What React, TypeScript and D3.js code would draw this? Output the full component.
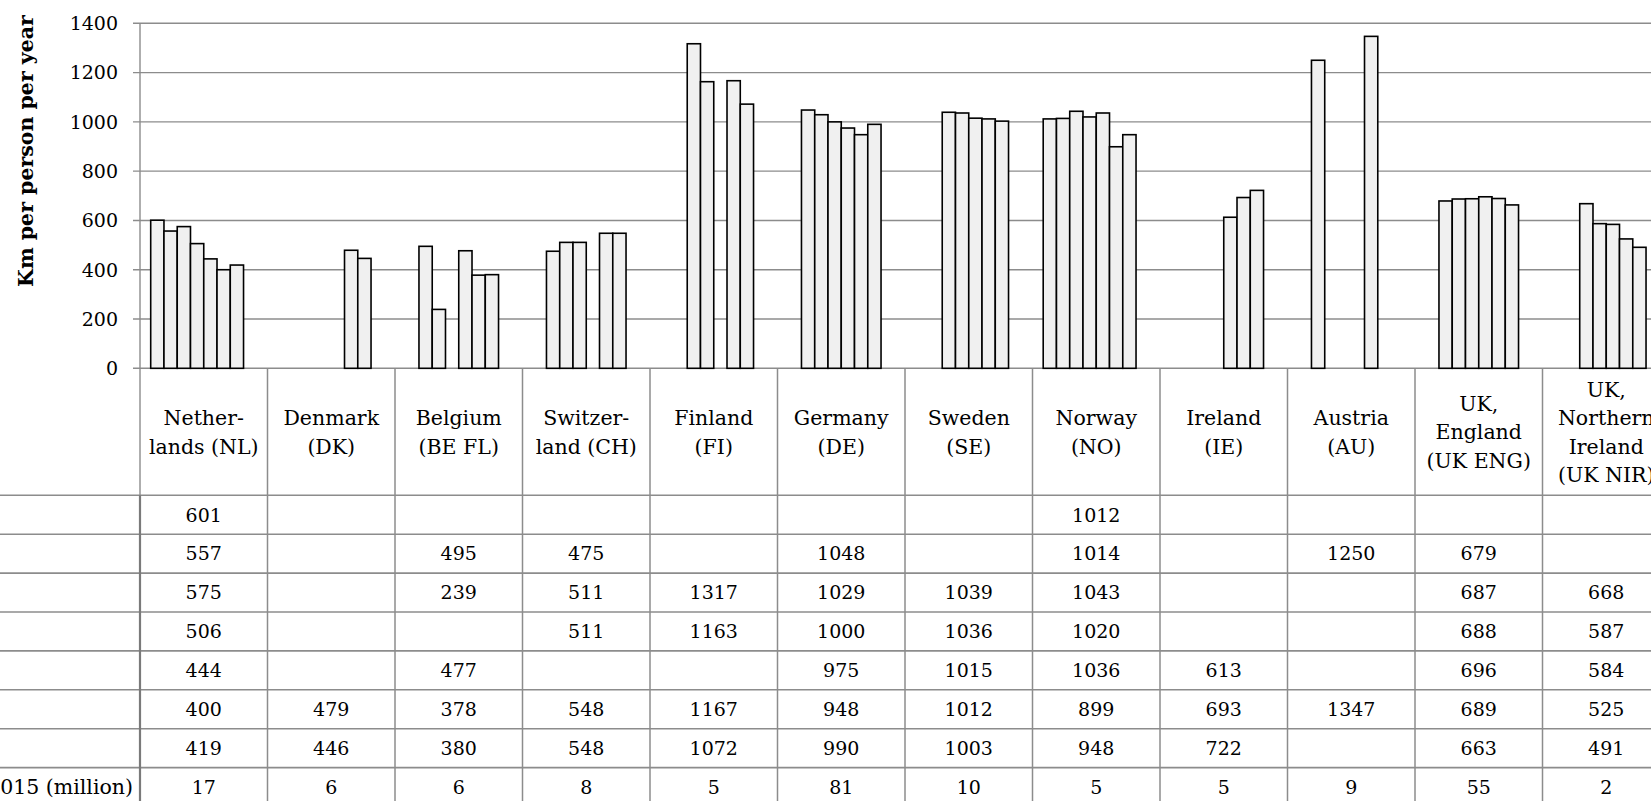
import React from "react";
import * as d3 from "d3";

const W = 1651;
const H = 801;

const categoryIds = ["NL", "DK", "BE FL", "CH", "FI", "DE", "SE", "NO", "IE", "AU", "UK ENG", "UK NIR"];
const categoryLabels = [
  ["Nether-", "lands (NL)"],
  ["Denmark", "(DK)"],
  ["Belgium", "(BE FL)"],
  ["Switzer-", "land (CH)"],
  ["Finland", "(FI)"],
  ["Germany", "(DE)"],
  ["Sweden", "(SE)"],
  ["Norway", "(NO)"],
  ["Ireland", "(IE)"],
  ["Austria", "(AU)"],
  ["UK,", "England", "(UK ENG)"],
  ["UK,", "Northern", "Ireland", "(UK NIR)"],
];

type V = number | null;
const series1: V[] = [601, null, null, null, null, null, null, 1012, null, null, null, null];
const series2: V[] = [557, null, 495, 475, null, 1048, null, 1014, null, 1250, 679, null];
const series3: V[] = [575, null, 239, 511, 1317, 1029, 1039, 1043, null, null, 687, 668];
const series4: V[] = [506, null, null, 511, 1163, 1000, 1036, 1020, null, null, 688, 587];
const series5: V[] = [444, null, 477, null, null, 975, 1015, 1036, 613, null, 696, 584];
const series6: V[] = [400, 479, 378, 548, 1167, 948, 1012, 899, 693, 1347, 689, 525];
const series7: V[] = [419, 446, 380, 548, 1072, 990, 1003, 948, 722, null, 663, 491];
const population: number[] = [17, 6, 6, 8, 5, 81, 10, 5, 5, 9, 55, 2];
const populationLabel = "Population 2015 (million)";

const seriesKeys = ["s1", "s2", "s3", "s4", "s5", "s6", "s7", "pop"];
const barSeries = [series1, series2, series3, series4, series5, series6, series7];

const yTicks = [0, 200, 400, 600, 800, 1000, 1200, 1400];
const yTitle = "Km per person per year";

const FONT = "'DejaVu Serif', serif";

export default function App() {
  const plotLeft = 140;
  const catW = 127.5;
  const y = d3.scaleLinear().domain([0, 1400]).range([368.3, 23.3]);
  const x = d3
    .scaleBand<string>()
    .domain(categoryIds)
    .range([plotLeft, plotLeft + catW * categoryIds.length])
    .paddingInner(0)
    .paddingOuter(0);
  const xs = d3
    .scaleBand<string>()
    .domain(seriesKeys)
    .range([0, catW])
    .paddingInner(0)
    .paddingOuter(0.807);

  const headerTop = y(0);
  const headerBottom = 495.3;
  const rowH = 38.9;
  const tableRows: V[][] = [...barSeries, population];
  const nRows = tableRows.length;
  const headerCenter = 432;
  const lineH = 28.5;

  return (
    <svg
      width={W}
      height={H}
      style={{ position: "absolute", left: 0, top: 0, background: "#fff" }}
      fontFamily={FONT}
    >
      <rect x={0} y={0} width={W} height={H} fill="#fff" />
      {/* gridlines */}
      {yTicks.map((t) => (
        <line
          key={"g" + t}
          x1={133}
          x2={W}
          y1={y(t)}
          y2={y(t)}
          stroke="#8c8c8c"
          strokeWidth={1.4}
        />
      ))}
      {/* tick labels */}
      {yTicks.map((t) => (
        <text
          key={"t" + t}
          x={118}
          y={y(t)}
          dy="0.36em"
          textAnchor="end"
          fontSize={19}
          fill="#000"
        >
          {t}
        </text>
      ))}
      {/* y title */}
      <text
        transform={`translate(26,${151}) rotate(-90)`}
        textAnchor="middle"
        dy="0.36em"
        fontSize={20.5}
        fontWeight="bold"
        fill="#000"
      >
        {yTitle}
      </text>
      {/* bars */}
      {barSeries.map((s, si) =>
        s.map((v, ci) =>
          v == null ? null : (
            <rect
              key={`b${si}-${ci}`}
              x={(x(categoryIds[ci]) as number) + (xs(seriesKeys[si]) as number)}
              y={y(v)}
              width={xs.bandwidth()}
              height={y(0) - y(v)}
              fill="#f0f0f0"
              stroke="#000"
              strokeWidth={1.6}
            />
          )
        )
      )}
      {/* y axis line */}
      <line x1={plotLeft} x2={plotLeft} y1={y(1400)} y2={H} stroke="#8c8c8c" strokeWidth={1.4} />
      {/* table horizontal lines */}
      {d3.range(nRows + 1).map((i) => (
        <line
          key={"h" + i}
          x1={0}
          x2={W}
          y1={headerBottom + i * rowH}
          y2={headerBottom + i * rowH}
          stroke="#8c8c8c"
          strokeWidth={1.6}
        />
      ))}
      {/* table vertical lines */}
      {categoryIds.map((c) => (
        <line
          key={"v" + c}
          x1={(x(c) as number) + catW}
          x2={(x(c) as number) + catW}
          y1={headerTop}
          y2={H}
          stroke="#8c8c8c"
          strokeWidth={1.5}
        />
      ))}
      <line x1={plotLeft} x2={plotLeft} y1={headerBottom} y2={H} stroke="#7a7a7a" strokeWidth={2.2} />
      {/* header labels */}
      {categoryLabels.map((lines, ci) => {
        const cx = (x(categoryIds[ci]) as number) + catW / 2;
        const start = headerCenter - ((lines.length - 1) * lineH) / 2;
        return lines.map((ln, li) => (
          <text
            key={`l${ci}-${li}`}
            x={cx}
            y={start + li * lineH}
            dy="0.36em"
            textAnchor="middle"
            fontSize={20.5}
            fill="#000"
          >
            {ln}
          </text>
        ));
      })}
      {/* table values */}
      {tableRows.map((row, ri) =>
        row.map((v, ci) =>
          v == null ? null : (
            <text
              key={`v${ri}-${ci}`}
              x={(x(categoryIds[ci]) as number) + catW / 2}
              y={headerBottom + ri * rowH + rowH / 2}
              dy="0.36em"
              textAnchor="middle"
              fontSize={19}
              fill="#000"
            >
              {v}
            </text>
          )
        )
      )}
      {/* population row label */}
      <text
        x={133}
        y={headerBottom + (nRows - 1) * rowH + rowH / 2}
        dy="0.36em"
        textAnchor="end"
        fontSize={20.5}
        fill="#000"
      >
        {populationLabel}
      </text>
    </svg>
  );
}
